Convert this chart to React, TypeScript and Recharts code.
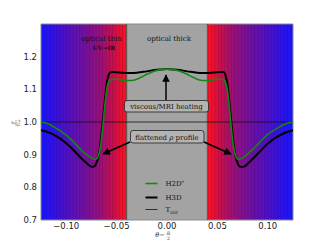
import React from "react";
import {
  ComposedChart,
  Line,
  XAxis,
  YAxis,
  ReferenceArea,
  ReferenceLine,
} from "recharts";

const thetaValues = [
  -0.125, -0.12, -0.115, -0.11, -0.105, -0.1, -0.095, -0.09, -0.085, -0.08,
  -0.077, -0.074, -0.072, -0.07, -0.068, -0.066, -0.064, -0.062, -0.06, -0.058,
  -0.056, -0.053, -0.05, -0.045, -0.04, -0.035, -0.03, -0.025, -0.02, -0.015,
  -0.01, -0.005, 0, 0.005, 0.01, 0.015, 0.02, 0.025, 0.03, 0.035, 0.04, 0.045,
  0.05, 0.053, 0.056, 0.058, 0.06, 0.062, 0.064, 0.066, 0.068, 0.07, 0.072,
  0.074, 0.077, 0.08, 0.085, 0.09, 0.095, 0.1, 0.105, 0.11, 0.115, 0.12, 0.125,
];

const h3dValues = [
  0.975, 0.971, 0.965, 0.957, 0.947, 0.935, 0.921, 0.905, 0.889, 0.875,
  0.867, 0.862, 0.864, 0.874, 0.895, 0.935, 0.995, 1.055, 1.115, 1.143,
  1.152, 1.153, 1.152, 1.151, 1.15, 1.15, 1.151, 1.153, 1.155, 1.158,
  1.16, 1.161, 1.162, 1.161, 1.16, 1.158, 1.155, 1.153, 1.151, 1.15, 1.15, 1.151,
  1.152, 1.153, 1.153, 1.143, 1.115, 1.055, 0.995, 0.935, 0.895, 0.874, 0.864,
  0.862, 0.864, 0.872, 0.887, 0.903, 0.919, 0.934, 0.946, 0.956, 0.964, 0.97, 0.975,
];

const h2dValues = [
  1.0, 0.997, 0.99, 0.981, 0.971, 0.96, 0.946, 0.93, 0.914, 0.901,
  0.894, 0.889, 0.886, 0.887, 0.897, 0.925, 0.975, 1.04, 1.095, 1.122,
  1.129, 1.131, 1.131, 1.129, 1.127, 1.127, 1.131, 1.138, 1.146, 1.153,
  1.158, 1.161, 1.162, 1.161, 1.158, 1.153, 1.146, 1.138, 1.131, 1.127, 1.127, 1.129,
  1.131, 1.131, 1.129, 1.122, 1.095, 1.04, 0.975, 0.925, 0.897, 0.887, 0.886,
  0.889, 0.894, 0.902, 0.916, 0.932, 0.948, 0.962, 0.973, 0.982, 0.991, 0.997, 1.0,
];

const xTicks = [-0.1, -0.05, 0, 0.05, 0.1];
const yTicks = [0.7, 0.8, 0.9, 1.0, 1.1, 1.2];
const tInit = 1.0;
const thickEdge = 0.04;
const xMin = -0.125;
const xMax = 0.125;

const data = thetaValues.map((t, i) => ({
  t,
  h3d: h3dValues[i],
  h2d: h2dValues[i],
}));

const fmtX = (v: number) => {
  const s = Math.abs(v).toFixed(2);
  return v < -1e-9 ? "\u2212" + s : s;
};
const fmtY = (v: number) => v.toFixed(1);

const tickStyle = { fontFamily: "DejaVu Sans", fontSize: 8.5, fill: "#222" };
const serif = "DejaVu Serif";

export default function App() {
  return (
    <div style={{ position: "absolute", left: 0, top: 0, width: 325, height: 245, background: "#fff" }}>
      <ComposedChart
        width={325}
        height={245}
        data={data}
        margin={{ top: 24, right: 32, bottom: 0, left: 0 }}
      >
        <defs>
          <linearGradient id="gradL" x1="0" y1="0" x2="1" y2="0">
            <stop offset="0" stopColor="#1616ff" />
            <stop offset="0.1" stopColor="#2a12f0" />
            <stop offset="0.28" stopColor="#4c10c8" />
            <stop offset="0.5" stopColor="#7010a2" />
            <stop offset="0.7" stopColor="#9a1078" />
            <stop offset="0.85" stopColor="#c8104c" />
            <stop offset="0.94" stopColor="#ee102e" />
            <stop offset="1" stopColor="#ff1222" />
          </linearGradient>
          <linearGradient id="gradR" x1="1" y1="0" x2="0" y2="0">
            <stop offset="0" stopColor="#1616ff" />
            <stop offset="0.1" stopColor="#2a12f0" />
            <stop offset="0.28" stopColor="#4c10c8" />
            <stop offset="0.5" stopColor="#7010a2" />
            <stop offset="0.7" stopColor="#9a1078" />
            <stop offset="0.85" stopColor="#c8104c" />
            <stop offset="0.94" stopColor="#ee102e" />
            <stop offset="1" stopColor="#ff1222" />
          </linearGradient>
          <pattern id="stripes" width="3.3" height="10" patternUnits="userSpaceOnUse">
            <rect x="0" y="0" width="0.9" height="10" fill="rgba(0,0,0,0.13)" />
          </pattern>
        </defs>
        <XAxis
          dataKey="t"
          type="number"
          domain={[xMin, xMax]}
          ticks={xTicks}
          tickFormatter={fmtX}
          tick={tickStyle}
          tickLine={false}
          tickSize={0}
          tickMargin={3}
          axisLine={false}
          allowDataOverflow
          height={25}
        />
        <YAxis
          type="number"
          domain={[0.7, 1.3]}
          ticks={yTicks}
          tickFormatter={fmtY}
          tick={tickStyle}
          tickLine={false}
          tickSize={0}
          tickMargin={4}
          axisLine={false}
          allowDataOverflow
          width={41}
        />
        <ReferenceArea x1={xMin} x2={-thickEdge} y1={0.7} y2={1.3} fill="url(#gradL)" fillOpacity={1} stroke="none" ifOverflow="hidden" />
        <ReferenceArea x1={thickEdge} x2={xMax} y1={0.7} y2={1.3} fill="url(#gradR)" fillOpacity={1} stroke="none" ifOverflow="hidden" />
        <ReferenceArea x1={xMin} x2={-thickEdge} y1={0.7} y2={1.3} fill="url(#stripes)" fillOpacity={1} stroke="none" ifOverflow="hidden" />
        <ReferenceArea x1={thickEdge} x2={xMax} y1={0.7} y2={1.3} fill="url(#stripes)" fillOpacity={1} stroke="none" ifOverflow="hidden" />
        <ReferenceArea x1={-thickEdge} x2={thickEdge} y1={0.7} y2={1.3} fill="#a3a3a3" fillOpacity={1} stroke="none" />
        <ReferenceLine x={-thickEdge} stroke="#505050" strokeWidth={1} />
        <ReferenceLine x={thickEdge} stroke="#505050" strokeWidth={1} />
        <ReferenceArea x1={xMin} x2={xMax} y1={0.7} y2={1.3} fill="none" stroke="#8a8a8a" strokeWidth={1} />
        <ReferenceLine y={tInit} stroke="#111" strokeWidth={0.8} />
        <Line
          type="monotone"
          dataKey="h3d"
          stroke="#000"
          strokeWidth={2}
          dot={false}
          isAnimationActive={false}
        />
        <Line
          type="monotone"
          dataKey="h2d"
          stroke="#118811"
          strokeWidth={1.6}
          dot={false}
          isAnimationActive={false}
        />
      </ComposedChart>
      <svg
        width={325}
        height={245}
        style={{ position: "absolute", left: 0, top: 0, pointerEvents: "none" }}
      >
        <defs>
          <marker id="ah" viewBox="0 0 10 10" refX="9" refY="5" markerWidth="5" markerHeight="5" orient="auto">
            <path d="M0,0 L10,5 L0,10 z" fill="#000" />
          </marker>
        </defs>
        <text x={101.5} y={40.5} textAnchor="middle" fontFamily={serif} fontSize={7} fill="#111">optical thin</text>
        <text x={104} y={49.5} textAnchor="middle" fontFamily={serif} fontSize={6} fontWeight="bold" fill="#111">UV{"\u2192"}IR</text>
        <text x={169} y={40.5} textAnchor="middle" fontFamily={serif} fontSize={7} fill="#111">optical thick</text>

        <line x1={166} y1={100} x2={166} y2={75} stroke="#000" strokeWidth={1.5} markerEnd="url(#ah)" />
        <rect x={124.5} y={100.5} width={84} height={11.5} rx={2.5} fill="#b4b4b4" stroke="#222" strokeWidth={0.8} />
        <text x={166.5} y={109} textAnchor="middle" fontFamily={serif} fontSize={7} fill="#111">viscous/MRI heating</text>

        <line x1={130} y1={142} x2={103} y2={154} stroke="#000" strokeWidth={1.5} markerEnd="url(#ah)" />
        <line x1={204} y1={142} x2={231} y2={154} stroke="#000" strokeWidth={1.5} markerEnd="url(#ah)" />
        <rect x={130.5} y={130.5} width={73.5} height={12.5} rx={2.5} fill="#b4b4b4" stroke="#222" strokeWidth={0.8} />
        <text x={167} y={139.5} textAnchor="middle" fontFamily={serif} fontSize={7} fill="#111">flattened <tspan fontStyle="italic">{"\u03c1"}</tspan> profile</text>

        <line x1={145.5} y1={183.5} x2={157.5} y2={183.5} stroke="#118811" strokeWidth={1.6} />
        <text x={165.5} y={186} fontFamily={serif} fontSize={7} fill="#111">H2D<tspan fontSize={4.5} dy={-2.5}>*</tspan></text>
        <line x1={145.5} y1={197.5} x2={157.5} y2={197.5} stroke="#000" strokeWidth={2} />
        <text x={165.5} y={200} fontFamily={serif} fontSize={7} fill="#111">H3D</text>
        <line x1={145.5} y1={209.5} x2={157.5} y2={209.5} stroke="#111" strokeWidth={0.8} />
        <text x={165.5} y={212} fontFamily={serif} fontSize={7} fill="#111">T<tspan fontSize={4.5} fontStyle="italic" dy={1.5}>init</tspan></text>

        <text x={160} y={237} textAnchor="middle" fontFamily={serif} fontStyle="italic" fontSize={6.5} fill="#222">{"\u03b8\u2212"}</text>
        <text x={168.5} y={233.5} textAnchor="middle" fontFamily={serif} fontStyle="italic" fontSize={4.5} fill="#222">{"\u03c0"}</text>
        <line x1={166.5} y1={234.6} x2={170.5} y2={234.6} stroke="#222" strokeWidth={0.4} />
        <text x={168.5} y={239.5} textAnchor="middle" fontFamily={serif} fontSize={4.5} fill="#222">2</text>

        <g transform="translate(16,123) rotate(-90)">
          <text x={0} y={-1} textAnchor="middle" fontFamily={serif} fontStyle="italic" fontSize={4.5} fill="#222">T</text>
          <line x1={-3} y1={0} x2={3} y2={0} stroke="#222" strokeWidth={0.4} />
          <text x={0} y={4.3} textAnchor="middle" fontFamily={serif} fontStyle="italic" fontSize={4} fill="#222">T<tspan fontSize={2.6}>init</tspan></text>
        </g>
      </svg>
    </div>
  );
}
